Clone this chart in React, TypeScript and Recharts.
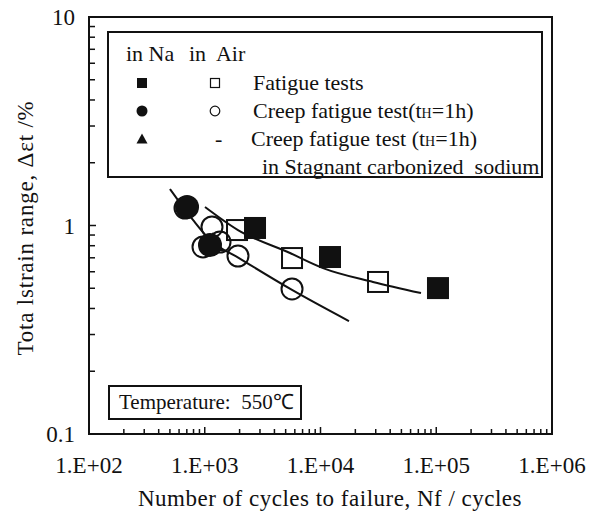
import React from "react";
import {
  ComposedChart,
  Scatter,
  Line,
  XAxis,
  YAxis,
  ReferenceArea,
  Legend,
} from "recharts";

// values (log-log)
const naFatigue = [
  { x: 2718, y: 0.973 },
  { x: 12080, y: 0.706 },
  { x: 103500, y: 0.501 },
];
const airFatigue = [
  { x: 1900, y: 0.951 },
  { x: 5675, y: 0.698 },
  { x: 31400, y: 0.536 },
];
const naCreep = [
  { x: 703, y: 1.227 },
  { x: 1110, y: 0.806 },
];
const airCreep = [
  { x: 675, y: 1.213 },
  { x: 1155, y: 0.984 },
  { x: 966, y: 0.789 },
  { x: 1355, y: 0.833 },
  { x: 1937, y: 0.714 },
  { x: 5675, y: 0.496 },
];
const naCreepCarb = [{ x: 1178, y: 0.824 }];

const creepCurve = [
  { x: 501, y: 1.496 },
  { x: 791, y: 1.063 },
  { x: 1110, y: 0.852 },
  { x: 1977, y: 0.698 },
  { x: 5675, y: 0.491 },
  { x: 17630, y: 0.348 },
];
const fatigueCurve = [
  { x: 1005, y: 1.227 },
  { x: 1937, y: 0.951 },
  { x: 5452, y: 0.738 },
  { x: 10510, y: 0.625 },
  { x: 28420, y: 0.536 },
  { x: 73830, y: 0.474 },
];

const xDecades = [100, 1000, 10000, 100000, 1000000];
const yDecades = [0.1, 1, 10];
const minorSteps = [2, 3, 4, 5, 6, 7, 8, 9];

const withMinor = (decades: number[]) => {
  const out: number[] = [];
  decades.forEach((d, i) => {
    out.push(d);
    if (i < decades.length - 1) minorSteps.forEach((m) => out.push(m * d));
  });
  return out;
};

const INK = "#111";
const FONT = "'Liberation Serif', 'Times New Roman', serif";

const isMajor = (v: number) => {
  const l = Math.log10(v);
  return Math.abs(l - Math.round(l)) < 1e-6;
};

const XTick = (p: any) => {
  const { x, y, payload } = p;
  const major = isMajor(payload.value);
  const exp = Math.round(Math.log10(payload.value));
  return (
    <g>
      <line x1={x} y1={y} x2={x} y2={y - (major ? 7 : 5)} stroke={INK} strokeWidth={1.5} />
      {major && (
        <text x={x} y={y + 39} textAnchor="middle" fontFamily={FONT} fontSize={23} fill={INK}>
          {`1.E+${String(exp).padStart(2, "0")}`}
        </text>
      )}
    </g>
  );
};

const YTick = (p: any) => {
  const { x, y, payload } = p;
  const major = isMajor(payload.value);
  return (
    <g>
      <line x1={x} y1={y} x2={x + (major ? 7 : 6)} y2={y} stroke={INK} strokeWidth={1.5} />
      {major && (
        <text x={x - 14} y={y} dy="0.35em" textAnchor="end" fontFamily={FONT} fontSize={23} fill={INK}>
          {String(payload.value)}
        </text>
      )}
    </g>
  );
};

const filledSquare = (p: any) => (
  <rect x={p.cx - 11} y={p.cy - 11} width={22} height={22} fill={INK} />
);
const openSquare = (p: any) => (
  <rect x={p.cx - 10} y={p.cy - 10} width={20} height={20} fill="none" stroke={INK} strokeWidth={2} />
);
const filledCircle = (p: any) => <circle cx={p.cx} cy={p.cy} r={12} fill={INK} />;
const openCircle = (p: any) => (
  <circle cx={p.cx} cy={p.cy} r={10.5} fill="none" stroke={INK} strokeWidth={2} />
);
const filledTriangle = (p: any) => (
  <path d={`M${p.cx},${p.cy - 11}L${p.cx + 11},${p.cy + 8}L${p.cx - 11},${p.cy + 8}Z`} fill={INK} />
);

const Mark = ({ kind }: { kind: string }) => (
  <svg width={14} height={14} style={{ display: "block" }}>
    {kind === "fs" && <rect x={2} y={2} width={10} height={10} fill={INK} />}
    {kind === "os" && <rect x={2.5} y={2.5} width={9} height={9} fill="none" stroke={INK} strokeWidth={1.2} />}
    {kind === "fc" && <circle cx={7} cy={7} r={5.5} fill={INK} />}
    {kind === "oc" && <circle cx={7} cy={7} r={4.8} fill="none" stroke={INK} strokeWidth={1.2} />}
    {kind === "ft" && <path d="M7,1.5L12.5,11.5L1.5,11.5Z" fill={INK} />}
  </svg>
);

const Sub = () => <span style={{ fontSize: 14 }}>H</span>;

const at = (left: number, top: number): React.CSSProperties => ({
  position: "absolute",
  left,
  top,
  transform: "translateY(-50%)",
  whiteSpace: "nowrap",
  lineHeight: 1,
});

const LegendBox = () => (
  <div
    style={{
      position: "relative",
      width: 436,
      height: 147,
      boxSizing: "border-box",
      border: `2px solid ${INK}`,
      background: "#fff",
      fontFamily: FONT,
      fontSize: 22,
      color: INK,
    }}
  >
    <div style={at(17, 21)}>in Na</div>
    <div style={at(80, 21)}>in&nbsp; Air</div>
    <div style={at(26, 50)}><Mark kind="fs" /></div>
    <div style={at(99, 50)}><Mark kind="os" /></div>
    <div style={at(144, 50)}>Fatigue tests</div>
    <div style={at(26, 78)}><Mark kind="fc" /></div>
    <div style={at(99, 78)}><Mark kind="oc" /></div>
    <div style={at(144, 78)}>Creep fatigue test(t<Sub />=1h)</div>
    <div style={at(26, 106)}><Mark kind="ft" /></div>
    <div style={at(106, 106)}>-</div>
    <div style={at(142, 106)}>Creep fatigue test (t<Sub />=1h)</div>
    <div style={at(153, 134)}>in Stagnant carbonized&nbsp; sodium</div>
  </div>
);

export default function App() {
  return (
    <div style={{ position: "absolute", left: 0, top: 0, width: 590, height: 515, background: "#fff" }}>
      <ComposedChart
        width={590}
        height={515}
        margin={{ top: 17, right: 38, bottom: 0, left: 0 }}
      >
        <XAxis
          dataKey="x"
          type="number"
          scale="log"
          domain={[100, 1000000]}
          ticks={withMinor(xDecades)}
          interval={0}
          allowDataOverflow
          height={81}
          tickSize={0}
          tickMargin={0}
          tickLine={false}
          axisLine={{ stroke: INK, strokeWidth: 2 }}
          tick={(p: any) => <XTick {...p} />}
          label={{
            content: () => (
              <text
                x={330}
                y={506}
                textAnchor="middle"
                fontFamily={FONT}
                fontSize={23}
                letterSpacing={0.5}
                fill={INK}
              >
                Number of cycles to failure, Nf / cycles
              </text>
            ),
          }}
        />
        <YAxis
          dataKey="y"
          type="number"
          scale="log"
          domain={[0.1, 10]}
          ticks={withMinor(yDecades)}
          interval={0}
          allowDataOverflow
          width={89}
          tickSize={0}
          tickMargin={0}
          tickLine={false}
          axisLine={{ stroke: INK, strokeWidth: 2 }}
          tick={(p: any) => <YTick {...p} />}
          label={{
            content: () => (
              <text
                x={25}
                y={228}
                transform="rotate(-90 25 228)"
                textAnchor="middle"
                dominantBaseline="central"
                fontFamily={FONT}
                fontSize={23}
                letterSpacing={0.8}
                fill={INK}
              >
                Tota lstrain range, Δεt /%
              </text>
            ),
          }}
        />
        <ReferenceArea
          x1={100}
          x2={1000000}
          y1={0.1}
          y2={10}
          fill="none"
          stroke={INK}
          strokeWidth={2}
          fillOpacity={0}
        />
        <Legend
          layout="horizontal"
          verticalAlign="middle"
          align="center"
          wrapperStyle={{ left: 107, top: 31, width: 436, height: 147 }}
          content={() => <LegendBox />}
        />
        <Scatter name="air creep" data={airCreep} dataKey="y" shape={openCircle} isAnimationActive={false} />
        <Scatter name="air fatigue" data={airFatigue} dataKey="y" shape={openSquare} isAnimationActive={false} />
        <Scatter name="na creep carb" data={naCreepCarb} dataKey="y" shape={filledTriangle} isAnimationActive={false} />
        <Scatter name="na creep" data={naCreep} dataKey="y" shape={filledCircle} isAnimationActive={false} />
        <Scatter name="na fatigue" data={naFatigue} dataKey="y" shape={filledSquare} isAnimationActive={false} />
        <Line data={creepCurve} dataKey="y" type="monotone" stroke={INK} strokeWidth={2} dot={false} isAnimationActive={false} />
        <Line data={fatigueCurve} dataKey="y" type="monotone" stroke={INK} strokeWidth={2} dot={false} isAnimationActive={false} />
      </ComposedChart>
      <div
        style={{
          position: "absolute",
          left: 108,
          top: 385,
          width: 194,
          height: 35,
          boxSizing: "border-box",
          border: `2px solid ${INK}`,
          background: "#fff",
          fontFamily: FONT,
          fontSize: 21,
          color: INK,
          lineHeight: "31px",
          paddingLeft: 9,
          whiteSpace: "nowrap",
        }}
      >
        Temperature:&nbsp; 550℃
      </div>
    </div>
  );
}
